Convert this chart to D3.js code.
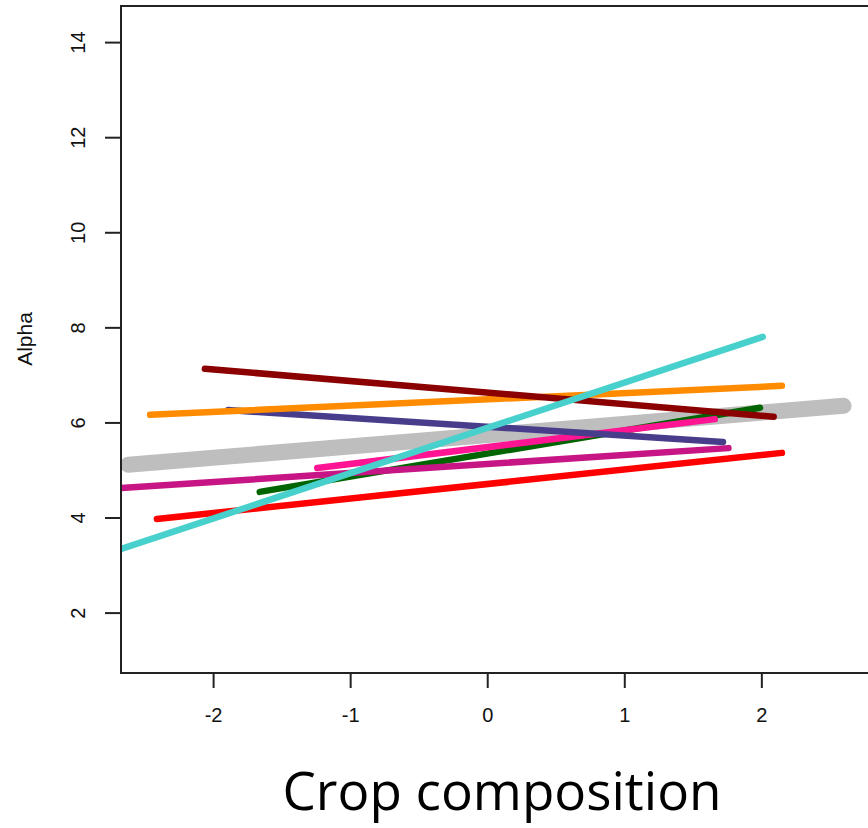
<!DOCTYPE html>
<html>
<head>
<meta charset="utf-8">
<script src="https://cdn.jsdelivr.net/npm/d3@7"></script>
<style>
  body { margin: 0; background: #fff; }
  svg { display: block; }
</style>
</head>
<body>
<div id="chart"></div>
<script>
// Dados

let series_names = ['grey', 'red', 'green', 'deeppink', 'violetred', 'slateblue', 'orange', 'darkred', 'turquoise'];
let series_colors = ['#bebebe', '#ff0000', '#006400', '#ff1493', '#c71585', '#483d8b', '#ff8c00', '#8b0000', '#48d1cc'];
let series_widths = [16, 6.5, 6.5, 6.5, 6.5, 6.5, 6.5, 6.5, 6.5];
let x_start = [-2.62, -2.41, -1.66, -1.24, -2.67, -1.89, -2.46, -2.06, -2.67];
let y_start = [5.12, 3.98, 4.55, 5.05, 4.63, 6.27, 6.17, 7.14, 3.35];
let x_end = [2.60, 2.15, 1.99, 1.66, 1.76, 1.72, 2.15, 2.09, 2.01];
let y_end = [6.36, 5.37, 6.32, 6.08, 5.47, 5.60, 6.78, 6.13, 7.81];

let x_ticks = [-2, -1, 0, 1, 2];
let y_ticks = [2, 4, 6, 8, 10, 12, 14];

// Canvas

let width = 868;
let height = 828;
let plot = { left: 121, top: 6, right: 871, bottom: 673 };

let svg = d3.select('#chart')
    .append('svg')
    .attr('width', width)
    .attr('height', height);

// Escalas

let scale_x = d3.scaleLinear()
    .domain([-2.672, 2.8])
    .range([plot.left, plot.right]);

let scale_y = d3.scaleLinear()
    .domain([0.74, 14.77])
    .range([plot.bottom, plot.top]);

// Linhas

let lines = series_names.map((name, i) => ({
    name: name,
    color: series_colors[i],
    width: series_widths[i],
    points: [[x_start[i], y_start[i]], [x_end[i], y_end[i]]]
}));

let line_gen = d3.line()
    .x(d => scale_x(d[0]))
    .y(d => scale_y(d[1]));

svg.append('clipPath')
    .attr('id', 'clip')
    .append('rect')
    .attr('x', plot.left)
    .attr('y', plot.top)
    .attr('width', plot.right - plot.left)
    .attr('height', plot.bottom - plot.top);

svg.append('g')
    .attr('clip-path', 'url(#clip)')
    .selectAll('path')
    .data(lines)
    .enter()
    .append('path')
    .attr('d', d => line_gen(d.points))
    .attr('fill', 'none')
    .attr('stroke', d => d.color)
    .attr('stroke-width', d => d.width)
    .attr('stroke-linecap', 'round');

// Caixa

svg.append('rect')
    .attr('x', plot.left)
    .attr('y', plot.top)
    .attr('width', plot.right - plot.left)
    .attr('height', plot.bottom - plot.top)
    .attr('fill', 'none')
    .attr('stroke', '#222')
    .attr('stroke-width', 2);

// Eixos

let fmt = d => String(d);

let axis_x = svg.append('g')
    .attr('transform', `translate(0,${plot.bottom})`)
    .call(d3.axisBottom(scale_x).tickValues(x_ticks).tickFormat(fmt).tickSize(15).tickSizeOuter(0).tickPadding(20));

let axis_y = svg.append('g')
    .attr('transform', `translate(${plot.left},0)`)
    .call(d3.axisLeft(scale_y).tickValues(y_ticks).tickFormat(fmt).tickSize(16).tickSizeOuter(0));

[axis_x, axis_y].forEach(ax => {
    ax.select('.domain').remove();
    ax.selectAll('line').attr('stroke', '#222').attr('stroke-width', 2);
    ax.selectAll('text')
        .attr('font-family', 'Liberation Sans, Arial, sans-serif')
        .attr('font-size', 20)
        .attr('fill', '#111');
});

axis_y.selectAll('text')
    .attr('x', null)
    .attr('dy', null)
    .attr('text-anchor', 'middle')
    .attr('transform', d => `translate(-41,${scale_y(d)}) rotate(-90)`)
    .attr('y', 0)
    .attr('dominant-baseline', 'middle');

axis_y.selectAll('.tick').attr('transform', null);
axis_y.selectAll('.tick line').attr('transform', d => `translate(0,${scale_y(d)})`);

// Rótulos

svg.append('text')
    .text('Alpha')
    .attr('transform', `translate(32,339) rotate(-90)`)
    .attr('text-anchor', 'middle')
    .attr('font-family', 'Liberation Sans, Arial, sans-serif')
    .attr('font-size', 21)
    .attr('fill', '#111');

svg.append('text')
    .text('Crop composition')
    .attr('x', 502)
    .attr('y', 810)
    .attr('text-anchor', 'middle')
    .attr('font-family', 'Open Sans, sans-serif')
    .attr('font-size', 53)
    .attr('fill', '#000');
</script>
</body>
</html>
